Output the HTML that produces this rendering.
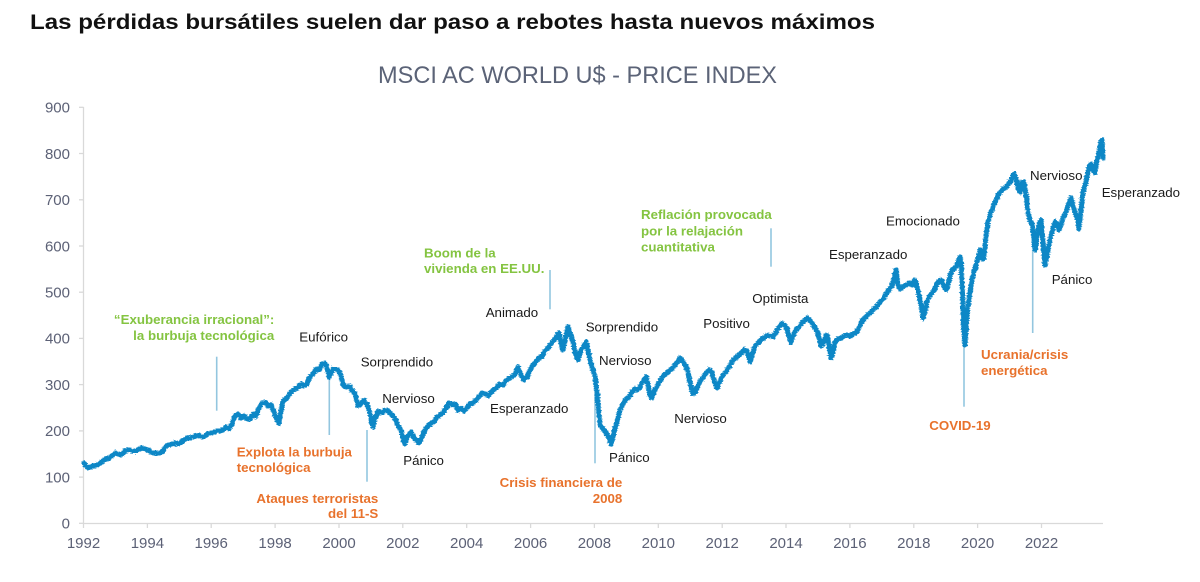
<!DOCTYPE html>
<html>
<head>
<meta charset="utf-8">
<style>
html,body{margin:0;padding:0;background:#fff;}
svg{display:block;}
text{font-family:"Liberation Sans",Arial,sans-serif;}
</style>
</head>
<body>
<svg width="1200" height="582" viewBox="0 0 1200 582" xmlns="http://www.w3.org/2000/svg">
<defs>
<filter id="rough" filterUnits="userSpaceOnUse" x="0" y="0" width="1200" height="582">
<feTurbulence type="fractalNoise" baseFrequency="0.35 0.9" numOctaves="2" seed="3" result="n"/>
<feDisplacementMap in="SourceGraphic" in2="n" scale="3.5" xChannelSelector="R" yChannelSelector="G"/>
</filter>
</defs>
<rect width="1200" height="582" fill="#fff"/>
<!-- Title -->
<text x="30" y="29" font-size="21" font-weight="bold" fill="#111" textLength="845" lengthAdjust="spacingAndGlyphs">Las pérdidas bursátiles suelen dar paso a rebotes hasta nuevos máximos</text>
<text x="378" y="83" font-size="24" fill="#5b6377" textLength="399" lengthAdjust="spacingAndGlyphs">MSCI AC WORLD U$ - PRICE INDEX</text>

<!-- Axes -->
<g stroke="#d9d9d9" stroke-width="1.3" fill="none">
<line x1="83.5" y1="107" x2="83.5" y2="523.5"/>
<line x1="83" y1="523.5" x2="1103" y2="523.5"/>
<line x1="79" y1="107.3" x2="83.5" y2="107.3"/>
<line x1="79" y1="153.5" x2="83.5" y2="153.5"/>
<line x1="79" y1="199.8" x2="83.5" y2="199.8"/>
<line x1="79" y1="246" x2="83.5" y2="246"/>
<line x1="79" y1="292.2" x2="83.5" y2="292.2"/>
<line x1="79" y1="338.4" x2="83.5" y2="338.4"/>
<line x1="79" y1="384.6" x2="83.5" y2="384.6"/>
<line x1="79" y1="430.9" x2="83.5" y2="430.9"/>
<line x1="79" y1="477.1" x2="83.5" y2="477.1"/>
<line x1="79" y1="523.3" x2="83.5" y2="523.3"/>
<line x1="83.5" y1="523.5" x2="83.5" y2="528"/>
<line x1="147.4" y1="523.5" x2="147.4" y2="528"/>
<line x1="211.2" y1="523.5" x2="211.2" y2="528"/>
<line x1="275.1" y1="523.5" x2="275.1" y2="528"/>
<line x1="339" y1="523.5" x2="339" y2="528"/>
<line x1="402.8" y1="523.5" x2="402.8" y2="528"/>
<line x1="466.7" y1="523.5" x2="466.7" y2="528"/>
<line x1="530.6" y1="523.5" x2="530.6" y2="528"/>
<line x1="594.4" y1="523.5" x2="594.4" y2="528"/>
<line x1="658.3" y1="523.5" x2="658.3" y2="528"/>
<line x1="722.2" y1="523.5" x2="722.2" y2="528"/>
<line x1="786" y1="523.5" x2="786" y2="528"/>
<line x1="849.9" y1="523.5" x2="849.9" y2="528"/>
<line x1="913.8" y1="523.5" x2="913.8" y2="528"/>
<line x1="977.6" y1="523.5" x2="977.6" y2="528"/>
<line x1="1041.5" y1="523.5" x2="1041.5" y2="528"/>
</g>

<!-- Y labels -->
<g font-size="15" fill="#5c6176" text-anchor="end">
<text x="70" y="112.6">900</text>
<text x="70" y="158.8">800</text>
<text x="70" y="205.1">700</text>
<text x="70" y="251.3">600</text>
<text x="70" y="297.5">500</text>
<text x="70" y="343.7">400</text>
<text x="70" y="389.9">300</text>
<text x="70" y="436.2">200</text>
<text x="70" y="482.4">100</text>
<text x="70" y="528.6">0</text>
</g>
<!-- X labels -->
<g font-size="15" fill="#5c6176" text-anchor="middle">
<text x="83.5" y="548">1992</text>
<text x="147.4" y="548">1994</text>
<text x="211.2" y="548">1996</text>
<text x="275.1" y="548">1998</text>
<text x="339" y="548">2000</text>
<text x="402.8" y="548">2002</text>
<text x="466.7" y="548">2004</text>
<text x="530.6" y="548">2006</text>
<text x="594.4" y="548">2008</text>
<text x="658.3" y="548">2010</text>
<text x="722.2" y="548">2012</text>
<text x="786" y="548">2014</text>
<text x="849.9" y="548">2016</text>
<text x="913.8" y="548">2018</text>
<text x="977.6" y="548">2020</text>
<text x="1041.5" y="548">2022</text>
</g>

<!-- Annotation lines -->
<g stroke="#93c6df" stroke-width="1.6">
<line x1="216.7" y1="356.7" x2="216.7" y2="410.7"/>
<line x1="329.3" y1="372" x2="329.3" y2="435"/>
<line x1="367" y1="430" x2="367" y2="481.7"/>
<line x1="550" y1="270" x2="550" y2="309.3"/>
<line x1="595" y1="380" x2="595" y2="463.3"/>
<line x1="771" y1="228.3" x2="771" y2="266.7"/>
<line x1="964" y1="340" x2="964" y2="406.7"/>
<line x1="1032.7" y1="240" x2="1032.7" y2="333"/>
</g>

<!-- Series -->
<polyline filter="url(#rough)" fill="none" stroke="#0a87c6" stroke-width="5" stroke-linejoin="round" stroke-linecap="round" points="84,463 86,466 88,468 91,467 94,466 97,465 100,463 103,461 106,459 109,458 112,456 115,453 118,454 121,455 124,452 127,450 130,450 133,451 136,451 139,449 142,448 145,449 148,450 151,452 154,453 157,453 160,453 163,451 166,446 169,445 172,444 175,443 178,444 181,442 184,440 187,438 190,438 193,437 196,436 199,435 202,437 205,436 208,434 211,433 214,432 217,431 220,431 223,430 226,427 229,429 232,424 235,416 238,414 241,418 244,416 247,419 250,419 253,414 256,416 259,408 262,403 265,402 268,406 271,405 274,412 277,420 279,423 281,412 283,401 286,399 289,395 292,391 295,389 298,387 301,384 304,386 307,384 310,377 313,374 316,369 319,370 322,364 325,363 327,368 329,377 331,374 333,369 336,369 339,371 341,375 343,385 346,387 349,386 352,390 355,393 358,406 361,404 364,400 367,405 370,413 373,427 375,418 378,411 381,413 384,411 387,410 390,413 393,416 396,420 398,426 401,430 403,438 405,444 407,437 409,434 411,432 414,438 417,441 419,443 422,437 425,430 428,426 431,423 434,422 437,417 440,415 443,413 446,408 449,403 452,405 455,404 458,410 461,408 464,411 467,408 470,404 473,403 476,400 479,396 482,393 485,394 488,396 491,392 494,390 497,387 500,384 503,385 506,381 509,378 512,377 515,374 518,367 521,375 524,380 527,377 530,370 533,365 536,362 539,358 542,356 545,351 548,348 551,344 554,340 557,336 559,333 561,344 563,350 565,340 568,327 571,335 573,341 575,352 578,360 580,353 583,347 586,342 588,350 590,360 593,370 595,377 597,392 598,404 599,415 600,424 602,428 605,431 608,436 611,444 613,437 615,428 617,422 620,410 623,404 626,399 629,397 632,392 634,389 637,390 640,387 643,381 646,377 648,385 650,395 652,398 654,392 657,386 660,381 663,376 666,374 669,371 672,369 675,365 678,361 680,358 683,362 686,366 688,372 690,382 693,394 695,392 698,386 700,381 703,378 706,373 709,370 712,372 715,384 717,388 720,381 723,375 726,372 729,367 732,362 735,358 738,356 741,353 744,350 747,351 750,362 752,355 755,346 758,343 761,340 764,338 767,335 770,336 773,337 776,332 779,327 782,323 785,326 787,329 789,336 791,342 793,336 796,330 799,327 802,323 805,320 808,318 811,322 814,326 817,331 819,338 821,346 823,344 825,338 827,335 829,345 831,358 833,352 835,342 838,339 841,338 844,336 847,335 850,336 853,334 856,333 859,328 862,321 865,318 868,315 871,312 874,309 877,306 880,302 883,299 886,294 889,290 892,286 894,278 896,270 898,285 900,289 903,287 906,285 909,283 912,285 915,280 917,287 919,295 921,305 923,318 925,312 927,302 929,297 932,293 935,289 938,282 941,280 944,286 946,290 948,285 950,276 952,270 955,268 958,262 960,257 961,263 962,280 963,310 964,335 965,345 966,330 967,315 968,307 970,292 972,280 974,272 976,265 978,258 980,250 982,259 984,258 986,235 988,222 990,214 993,207 996,200 999,194 1002,190 1005,188 1008,185 1011,180 1014,174 1016,178 1018,188 1020,192 1022,182 1024,182 1026,195 1028,212 1030,220 1032,224 1034,238 1035,250 1037,236 1039,225 1041,220 1043,242 1045,265 1047,255 1049,245 1051,236 1053,228 1055,222 1057,225 1059,230 1061,224 1063,218 1065,214 1067,209 1069,203 1071,198 1073,205 1075,212 1077,218 1079,229 1081,210 1083,192 1085,186 1087,178 1089,166 1091,164 1093,170 1095,173 1097,160 1099,152 1101,142 1102,140 1103,158"/>

<!-- Black sentiment labels -->
<g font-size="13.3" fill="#1a1a1a">
<text x="299.3" y="341.5">Eufórico</text>
<text x="360.7" y="366.5">Sorprendido</text>
<text x="382.3" y="403.1">Nervioso</text>
<text x="403.3" y="464.8">Pánico</text>
<text x="485.7" y="316.8">Animado</text>
<text x="585.7" y="331.5">Sorprendido</text>
<text x="599" y="364.8">Nervioso</text>
<text x="490" y="413.1">Esperanzado</text>
<text x="609" y="462.1">Pánico</text>
<text x="674.3" y="423.1">Nervioso</text>
<text x="703.3" y="328.1">Positivo</text>
<text x="752.3" y="303.1">Optimista</text>
<text x="829" y="258.8">Esperanzado</text>
<text x="886" y="225.5">Emocionado</text>
<text x="1030" y="179.8">Nervioso</text>
<text x="1101.7" y="196.8">Esperanzado</text>
<text x="1051.7" y="284.1">Pánico</text>
</g>

<!-- Green labels -->
<g font-size="13.3" font-weight="bold" fill="#84c441">
<text x="274.3" y="324.1" text-anchor="end">“Exuberancia irracional”:</text>
<text x="274.3" y="340.1" text-anchor="end">la burbuja tecnológica</text>
<text x="424" y="257.5">Boom de la</text>
<text x="424" y="273.1">vivienda en EE.UU.</text>
<text x="641" y="219.1">Reflación provocada</text>
<text x="641" y="235.5">por la relajación</text>
<text x="641" y="251.5">cuantitativa</text>
</g>

<!-- Orange labels -->
<g font-size="13.3" font-weight="bold" fill="#e8722c">
<text x="236.7" y="456.5">Explota la burbuja</text>
<text x="236.7" y="472.1">tecnológica</text>
<text x="378.3" y="503.1" text-anchor="end">Ataques terroristas</text>
<text x="378.3" y="518.1" text-anchor="end">del 11-S</text>
<text x="622.3" y="487.1" text-anchor="end">Crisis financiera de</text>
<text x="622.3" y="502.8" text-anchor="end">2008</text>
<text x="929.3" y="430.1">COVID-19</text>
<text x="981" y="359.1">Ucrania/crisis</text>
<text x="981" y="374.8">energética</text>
</g>
</svg>
</body>
</html>
